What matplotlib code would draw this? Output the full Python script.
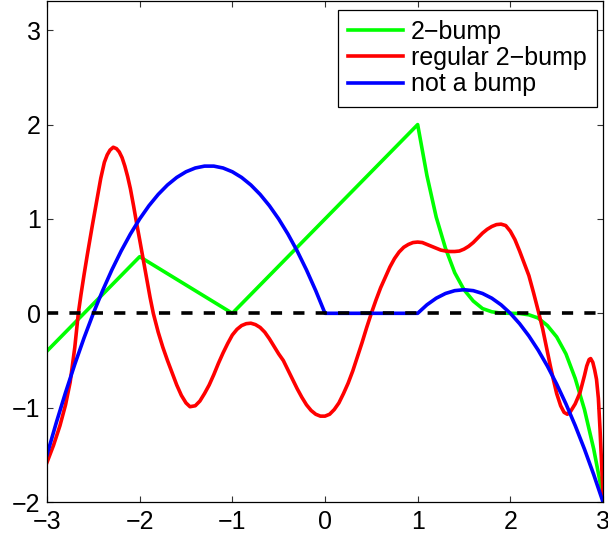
import matplotlib.pyplot as plt

# green "2-bump": corners plus the falling tail
green_x = [-3.0, -2.0, -1.0, 1.0, 1.1, 1.2, 1.3, 1.4, 1.5, 1.6, 1.7, 1.8, 1.9, 2.0,
           2.1, 2.2, 2.3, 2.4, 2.5, 2.6, 2.7, 2.8, 2.9, 3.0]
green_y = [-0.4, 0.6, 0.0, 2.0, 1.46, 1.02, 0.69, 0.43, 0.25, 0.13, 0.05, 0.016, 0.002, 0.0,
           -0.002, -0.016, -0.05, -0.13, -0.25, -0.43, -0.69, -1.02, -1.44, -1.95]

# red "regular 2-bump"
red_x = [-3.0, -2.93, -2.86, -2.8, -2.75, -2.7, -2.662, -2.633, -2.6, -2.565, -2.511,
         -2.457, -2.42, -2.381, -2.35, -2.32, -2.285, -2.25, -2.22, -2.19, -2.16, -2.13,
         -2.1, -2.066, -2.032, -2.0, -1.96, -1.92, -1.888, -1.853, -1.8, -1.75, -1.7,
         -1.65, -1.6, -1.55, -1.5, -1.457, -1.4, -1.35, -1.3, -1.25, -1.2, -1.15, -1.1,
         -1.05, -1.0, -0.95, -0.9, -0.85, -0.8, -0.75, -0.7, -0.65, -0.6, -0.55, -0.5,
         -0.45, -0.4, -0.35, -0.3, -0.25, -0.2, -0.15, -0.1, -0.05, 0.0, 0.05, 0.1, 0.15,
         0.2, 0.25, 0.3, 0.35, 0.4, 0.45, 0.5, 0.55, 0.6, 0.65, 0.7, 0.75, 0.8, 0.85, 0.9,
         0.95, 1.0, 1.05, 1.1, 1.15, 1.2, 1.25, 1.3, 1.35, 1.4, 1.45, 1.5, 1.55, 1.6,
         1.65, 1.7, 1.75, 1.8, 1.85, 1.9, 1.95, 2.0, 2.05, 2.1, 2.15, 2.2, 2.25, 2.3,
         2.35, 2.392, 2.43, 2.464, 2.5, 2.543, 2.58, 2.615, 2.65, 2.7, 2.752, 2.8, 2.824,
         2.85, 2.867, 2.89, 2.91, 2.93, 2.95, 2.968, 2.985, 3.0]
red_y = [-1.58, -1.4, -1.19, -0.97, -0.73, -0.36, 0.0, 0.2, 0.41, 0.62, 0.93,
         1.23, 1.43, 1.6, 1.68, 1.73, 1.76, 1.745, 1.71, 1.65, 1.56, 1.45,
         1.32, 1.14, 0.95, 0.78, 0.56, 0.34, 0.17, 0.0, -0.2, -0.36, -0.5,
         -0.63, -0.76, -0.87, -0.95, -0.99, -0.98, -0.93, -0.85, -0.76, -0.65, -0.53, -0.42,
         -0.32, -0.23, -0.17, -0.13, -0.11, -0.105, -0.12, -0.15, -0.2, -0.27, -0.35, -0.43,
         -0.5, -0.6, -0.7, -0.8, -0.89, -0.97, -1.03, -1.07, -1.09, -1.09, -1.07, -1.02, -0.95,
         -0.85, -0.74, -0.61, -0.46, -0.31, -0.15, 0.0, 0.14, 0.27, 0.38, 0.49, 0.58, 0.65,
         0.7, 0.73, 0.75, 0.755, 0.75, 0.73, 0.71, 0.69, 0.67, 0.66, 0.655, 0.655, 0.66,
         0.68, 0.71, 0.75, 0.8, 0.85, 0.89, 0.92, 0.94, 0.945, 0.93, 0.87, 0.78, 0.66,
         0.53, 0.4, 0.22, 0.03, -0.17, -0.37, -0.55, -0.7, -0.85, -0.98, -1.05, -1.07,
         -1.04, -0.96, -0.84, -0.66, -0.56, -0.49, -0.48, -0.52, -0.6, -0.7, -0.9, -1.23,
         -1.6, -1.93]

# blue "not a bump"
blue_x = [-3.0, -2.9, -2.8, -2.7, -2.6, -2.5, -2.4, -2.3, -2.2, -2.1, -2.0, -1.9, -1.8,
          -1.7, -1.6, -1.5, -1.4, -1.3, -1.2, -1.1, -1.0, -0.9, -0.8, -0.7, -0.6, -0.5,
          -0.4, -0.3, -0.2, -0.1, 0.0, 1.0, 1.1, 1.2, 1.3, 1.4, 1.5, 1.6, 1.7, 1.8, 1.9,
          2.0, 2.1, 2.2, 2.3, 2.4, 2.5, 2.6, 2.7, 2.8, 2.9, 3.0]
blue_y = [-1.5, -1.16, -0.84, -0.54, -0.26, 0.0, 0.24, 0.46, 0.66, 0.84, 1.0, 1.14, 1.26,
          1.36, 1.44, 1.5, 1.54, 1.56, 1.56, 1.54, 1.5, 1.44, 1.36, 1.26, 1.14, 1.0,
          0.84, 0.66, 0.46, 0.24, 0.0, 0.0, 0.09, 0.16, 0.21, 0.24, 0.25, 0.24, 0.21, 0.16,
          0.09, 0.0, -0.11, -0.24, -0.39, -0.56, -0.75, -0.96, -1.19, -1.44, -1.71, -2.0]

labels = ["2\u2212bump", "regular 2\u2212bump", "not a bump"]
x_ticks = [-3, -2, -1, 0, 1, 2, 3]
y_ticks = [-2, -1, 0, 1, 2, 3]

plt.rcParams["font.family"] = ["Liberation Sans", "DejaVu Sans"]

fig = plt.figure(figsize=(6.08, 5.41), dpi=100)
ax = fig.add_axes([47 / 608, 39 / 541, 556 / 608, 501 / 541])

lw = 2.6
ax.plot(green_x, green_y, color="#00ff00", lw=lw, label=labels[0])
ax.plot(red_x, red_y, color="#ff0000", lw=lw, label=labels[1])
ax.plot(blue_x, blue_y, color="#0000ff", lw=lw, label=labels[2])
# dashed zero line sits on top of the curves
ax.plot([-3, 3], [0, 0], color="black", lw=lw, linestyle=(0, (3.1, 3.1)))

ax.set_xlim(-3, 3)
ax.set_ylim(-2, 3.31)
ax.set_xticks(x_ticks)
ax.set_yticks(y_ticks)
ax.tick_params(direction="in", top=True, right=True, length=4.3, width=0.8,
               labelsize=18, color="#333333")
ax.tick_params(axis="y", pad=4.5)
ax.tick_params(axis="x", pad=6)
for s in ax.spines.values():
    s.set_linewidth(0.9)

leg = ax.legend(loc="upper right", bbox_to_anchor=(597 / 608, 1 - 9.5 / 541),
                bbox_transform=fig.transFigure, borderaxespad=0, fontsize=18,
                handlelength=2.2, labelspacing=0.1, handletextpad=0.35,
                borderpad=0.4, fancybox=False, framealpha=1)
leg.get_frame().set_edgecolor("black")
leg.get_frame().set_linewidth(0.9)

fig.savefig("out.png", dpi=100)
